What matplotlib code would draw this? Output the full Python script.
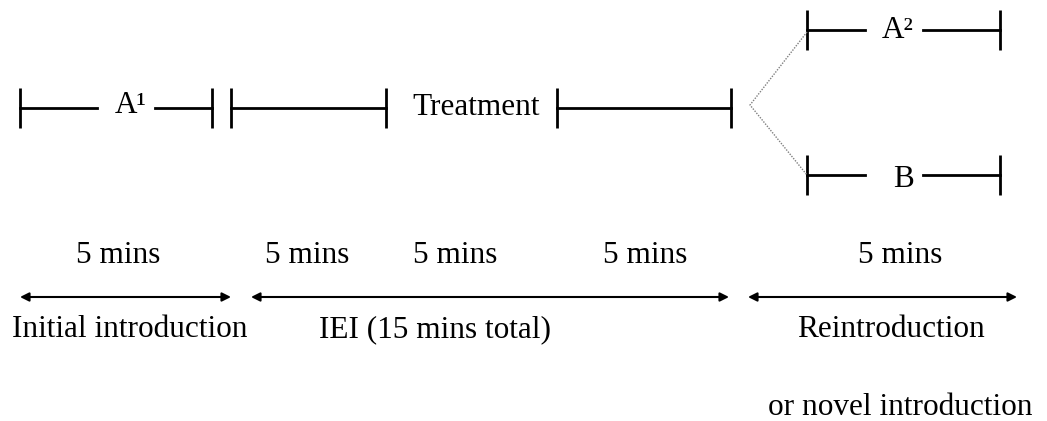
import matplotlib.pyplot as plt

# bracket segments: (x start, x end, y centre, label, label x)
seg_x0 = [20, 231, 557, 807, 807]
seg_x1 = [212, 386, 731, 1000, 1000]
seg_y = [108, 108, 108, 30, 175]
gap_l = [97, None, None, 865, 865]
gap_r = [155, None, None, 923, 923]
seg_labels = ['A\u00b9', '', '', 'A\u00b2', 'B']
label_x = [131, 0, 0, 898, 903]
label_base = [113, 0, 0, 38, 187]

treat_label = 'Treatment'
treat_x = 476

# durations
dur_labels = ['5 mins', '5 mins', '5 mins', '5 mins', '5 mins']
dur_x = [118, 307, 455, 645, 900]

# phase arrows
arr_x0 = [20, 251, 748]
arr_x1 = [231, 729, 1017]
phase_labels = ['Initial introduction', 'IEI (15 mins total)', 'Reintroduction']
phase_x = [130, 435, 891]
extra_label = 'or novel introduction'

plt.rcParams['font.family'] = ['Liberation Serif', 'DejaVu Serif']
fig = plt.figure(figsize=(10.47, 4.21), dpi=100)
ax = fig.add_axes([0, 0, 1, 1])
ax.set_xlim(0, 1047)
ax.set_ylim(421, 0)
ax.axis('off')

fs = 22.5
lw = 2
half = 20

for i in range(len(seg_x0)):
    y = seg_y[i]
    for xx in (seg_x0[i], seg_x1[i]):
        ax.plot([xx, xx], [y - half, y + half], color='black', lw=lw, solid_capstyle='butt')
    if gap_l[i] is None:
        ax.plot([seg_x0[i], seg_x1[i]], [y, y], color='black', lw=lw)
    else:
        ax.plot([seg_x0[i], gap_l[i]], [y, y], color='black', lw=lw)
        ax.plot([gap_r[i], seg_x1[i]], [y, y], color='black', lw=lw)
        ax.text(label_x[i], label_base[i], seg_labels[i], fontsize=fs, ha='center', va='baseline')

ax.text(treat_x, 115, treat_label, fontsize=fs, ha='center', va='baseline')

# dotted branch
ax.plot([807, 750, 807], [32, 105, 175], color='gray', lw=1, ls=(0, (1, 1)))

for x, t in zip(dur_x, dur_labels):
    ax.text(x, 263, t, fontsize=fs, ha='center', va='baseline')

for x0, x1 in zip(arr_x0, arr_x1):
    ax.annotate('', xy=(x1, 297), xytext=(x0, 297),
                arrowprops=dict(arrowstyle='<|-|>', color='black', lw=1.5,
                                mutation_scale=13, shrinkA=0, shrinkB=0))

for x, t in zip(phase_x, phase_labels):
    ax.text(x, 337, t, fontsize=fs, ha='center', va='baseline')
ax.text(900, 415, extra_label, fontsize=fs, ha='center', va='baseline')

fig.savefig('out.png', dpi=100)
